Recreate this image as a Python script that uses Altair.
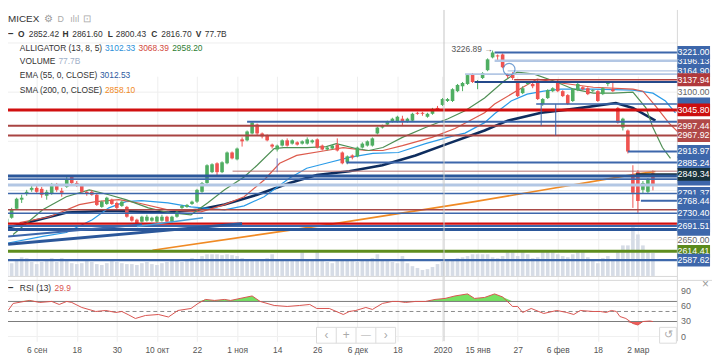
import altair as alt
import pandas as pd

FONT = "Liberation Sans"

# ---------------- data ----------------
opens = [2696, 2717, 2744, 2772, 2790, 2802, 2808, 2805, 2784, 2790,
         2814, 2799, 2811, 2841, 2823, 2817, 2796, 2796, 2787, 2750,
         2759, 2772, 2762, 2753, 2750, 2720, 2711, 2705, 2708, 2708,
         2705, 2708, 2720, 2705, 2720, 2747, 2750, 2759, 2766, 2796,
         2823, 2856, 2883, 2856, 2883, 2916, 2895, 2956, 2953, 2974,
         3001, 2974, 2968, 2940, 2925, 2937, 2953, 2943, 2947, 2943,
         2943, 2947, 2956, 2937, 2925, 2928, 2940, 2916, 2886, 2907,
         2904, 2931, 2937, 2937, 2974, 2992, 3001, 3010, 3010, 3019,
         3010, 3013, 3037, 3037, 3025, 3034, 3052, 3061, 3073, 3073,
         3103, 3118, 3125, 3155, 3128, 3143, 3167, 3206, 3212, 3215,
         3155, 3155, 3128, 3097, 3125, 3125, 3134, 3064, 3082, 3103,
         3134, 3103, 3091, 3073, 3106, 3115, 3112, 3103, 3103, 3094,
         3125, 3109, 3052, 2992, 2983, 2849, 2856, 2802, 2796, 2852.42]
highs = [2723, 2747, 2778, 2787, 2802, 2814, 2814, 2811, 2802, 2823,
         2823, 2808, 2841, 2847, 2829, 2820, 2799, 2802, 2790, 2769,
         2781, 2775, 2766, 2769, 2753, 2723, 2714, 2723, 2726, 2720,
         2723, 2726, 2723, 2723, 2738, 2756, 2759, 2769, 2805, 2826,
         2880, 2883, 2886, 2889, 2919, 2919, 2931, 2962, 2983, 3010,
         3004, 2977, 2971, 2943, 2940, 2956, 2959, 2956, 2950, 2953,
         2962, 2956, 2959, 2940, 2934, 2940, 2959, 2919, 2907, 2910,
         2934, 2947, 2953, 2962, 2995, 3001, 3013, 3022, 3028, 3028,
         3022, 3037, 3040, 3040, 3037, 3052, 3058, 3082, 3082, 3112,
         3125, 3131, 3155, 3158, 3137, 3161, 3203, 3226.89, 3215, 3218,
         3158, 3161, 3131, 3118, 3134, 3128, 3137, 3082, 3109, 3115,
         3137, 3106, 3094, 3112, 3128, 3118, 3115, 3109, 3106, 3115,
         3134, 3128, 3055, 3022, 2986, 2877, 2862, 2829, 2838, 2861.60]
lows = [2687, 2714, 2741, 2762, 2784, 2796, 2793, 2778, 2772, 2787,
        2796, 2781, 2808, 2817, 2811, 2793, 2784, 2784, 2753, 2747,
        2756, 2756, 2741, 2750, 2717, 2705, 2696, 2702, 2705, 2705,
        2702, 2705, 2702, 2702, 2717, 2744, 2747, 2756, 2762, 2793,
        2820, 2853, 2847, 2853, 2880, 2895, 2892, 2934, 2950, 2971,
        2968, 2959, 2950, 2928, 2919, 2934, 2934, 2940, 2937, 2940,
        2940, 2943, 2928, 2922, 2922, 2925, 2919, 2880, 2880, 2895,
        2901, 2928, 2934, 2934, 2971, 2989, 2998, 3007, 3007, 2998,
        3007, 3010, 3031, 3028, 3022, 3031, 3043, 3058, 3070, 3070,
        3100, 3103, 3122, 3128, 3109, 3140, 3164, 3203, 3194, 3173,
        3143, 3137, 3085, 3094, 3122, 3112, 3076, 3058, 3079, 3100,
        3100, 3085, 3061, 3070, 3103, 3106, 3091, 3100, 3070, 3091,
        3118, 3100, 3004, 2983, 2913, 2747, 2730, 2790, 2790, 2800.43]
closes = [2714, 2741, 2775, 2778, 2796, 2808, 2796, 2787, 2796, 2820,
          2802, 2793, 2835, 2823, 2817, 2796, 2790, 2787, 2756, 2766,
          2778, 2759, 2747, 2766, 2720, 2708, 2699, 2720, 2720, 2717,
          2720, 2720, 2705, 2720, 2735, 2753, 2756, 2766, 2802, 2823,
          2877, 2880, 2856, 2886, 2916, 2898, 2928, 2950, 2980, 3007,
          2974, 2965, 2953, 2934, 2937, 2953, 2937, 2953, 2940, 2950,
          2956, 2953, 2931, 2925, 2931, 2937, 2922, 2883, 2904, 2901,
          2931, 2943, 2950, 2959, 2992, 2998, 3010, 3019, 3025, 3010,
          3019, 3034, 3034, 3034, 3034, 3049, 3046, 3079, 3079, 3109,
          3122, 3128, 3152, 3131, 3134, 3158, 3200, 3221, 3209, 3176,
          3149, 3143, 3088, 3112, 3128, 3118, 3079, 3079, 3106, 3112,
          3103, 3088, 3064, 3109, 3125, 3109, 3094, 3106, 3073, 3112,
          3128, 3103, 3007, 3019, 2919, 2793, 2768, 2823, 2832, 2816.70]
volumes = [50, 43, 57, 63, 60, 47, 40, 47, 50, 60, 47, 60, 50, 43, 40,
           43, 50, 47, 40, 37, 43, 50, 47, 43, 40, 40, 37, 43, 47, 40, 37,
           43, 47, 50, 57, 47, 53, 60, 57, 67, 73,
           73, 73, 70, 73, 70, 67, 60,
           57, 53, 50, 53, 60, 73, 57, 53, 50, 50, 53, 80, 57, 53, 83,
           50, 47, 43, 50, 57, 53, 50, 47, 53, 57, 60, 73, 53, 50, 47, 43, 67,
           43, 33, 27, 20, 23, 30, 40,
           47, 50, 57, 60, 63, 67, 73, 73, 73, 73, 63, 60, 67,
           80, 80, 67, 83, 73, 60, 63, 83, 83, 80, 73, 67, 63, 73, 80, 80,
           63, 57, 43, 60, 67, 57,
           83, 103, 103, 173, 140, 103, 80, 77.7]

# indicator lines, read as (bar index, value) points
ema_x = [0.3, 12, 20.4, 32.3, 38.2, 43.5, 50, 56.5, 61.9, 68.4, 75, 81.6, 88.1,
         95.4, 100, 106.7, 113.2, 121.6, 125, 129.5]
ema_v = [2687, 2733, 2738, 2733, 2741, 2757, 2787, 2823, 2847, 2859, 2877, 2907,
         2943, 2983, 3013, 3037, 3049, 3067, 3052, 3013]
sma_x = [29.1, 64.2, 93.4, 125.6, 129.5]
sma_v = [2618, 2696, 2766, 2850, 2858]
lips_x = [1.3, 7.2, 11.9, 16.5, 20.4, 23.8, 28.3, 32.2, 36.8, 40.1, 43.5, 47.4, 50,
          53.4, 55.3, 59.9, 63.8, 65.8, 69.7, 72.3, 75.1, 79, 83.6, 88.1, 91.5,
          95.4, 99.3, 101.9, 105.3, 109.2, 113.2, 117.1, 121.1, 125, 127.6, 129,
          130.9, 132.5]
lips_v = [2666, 2741, 2781, 2802, 2787, 2772, 2747, 2733, 2726, 2762, 2802, 2841,
          2877, 2928, 2931, 2931, 2934, 2943, 2928, 2922, 2931, 2962, 2992, 3019,
          3043, 3082, 3134, 3161, 3155, 3134, 3109, 3097, 3097, 3100, 3052, 2992,
          2931, 2898]
teeth_x = [2.6, 8.6, 14.5, 17.8, 22.4, 26.3, 32.2, 38.8, 43.5, 47.4, 51.4, 54.5,
           57.9, 63.8, 67.2, 71.7, 75.1, 79, 84.9, 89.5, 95.4, 97.4, 102.7, 105.9,
           110.6, 117.1, 125, 127, 129.5, 132.3, 133.9]
teeth_v = [2702, 2720, 2757, 2766, 2772, 2762, 2741, 2735, 2757, 2781, 2832, 2883,
           2907, 2922, 2931, 2922, 2922, 2937, 2962, 2989, 3037, 3064, 3112, 3140,
           3128, 3115, 3109, 3103, 3058, 3004, 2980]
jaw_x = [0.3, 7.2, 11.9, 17.1, 20.4, 23.8, 26.9, 32.2, 36.8, 43.5, 47.4, 51.4, 56.5,
         59.9, 63.8, 68.4, 73.1, 78.2, 83.6, 89.5, 91.5, 95.4, 97.4, 100.7, 103.9,
         107.2, 110.6, 117.1, 125, 129, 131.5, 133.5]
jaw_v = [2640, 2660, 2672, 2711, 2747, 2766, 2769, 2762, 2750, 2741, 2753, 2781,
         2838, 2868, 2883, 2901, 2913, 2916, 2943, 2968, 2975, 3007, 3034, 3073,
         3094, 3103, 3109, 3109, 3106, 3097, 3073, 3037]

rsi_x = [0.3, 1.3, 4.6, 6.6, 9, 10.5, 12, 13, 15, 17.8, 19.8, 21.8, 23, 24.4, 25.7,
         27.7, 30.3, 32.3, 34.2, 36.8, 38.2, 39.7, 41.5, 43.5, 44.7, 46.6, 49, 50.6,
         53.4, 56, 58.5, 60.5, 61.9, 64.4, 67.2, 68.4, 69.7, 71.7, 73, 75, 77, 78.2,
         79.6, 81.6, 83.6, 85.5, 87.5, 89.5, 92, 93.4, 95.4, 97.4, 99, 101, 102, 103,
         104.7, 107.2, 109.8, 111.8, 113.2, 114.5, 117, 118.5, 119.7, 120.7, 121.7,
         122.4, 123.6, 125, 126, 127, 128.4, 129]
rsi_v = [52, 66, 72, 68, 70, 64, 70, 68, 58, 50, 52, 48, 50, 43, 36, 42, 44, 39, 52,
         56, 66, 74, 72, 74, 72, 76, 81, 70, 62, 60, 62, 64, 56, 56, 44, 50, 52, 58,
         54, 66, 70, 70, 68, 70, 70, 74, 76, 81, 85, 76, 78, 85, 79, 60, 60, 48, 56,
         46, 52, 48, 44, 52, 50, 50, 48, 52, 50, 40, 36, 26, 23, 30, 31, 29.9]

# horizontal drawing lines: price, start bar, colour, width
hl_price = [3221.00, 3196.13, 3164.90, 3155, 3137.94, 3131, 3064, 3045.80, 3010,
            2997.44, 2967.92, 2918.97, 2885.24, 2859, 2849.34, 2844, 2834.73, 2817,
            2791, 2768.44, 2741, 2730.40, 2699, 2691.51, 2681, 2614.41, 2587.62]
hl_start = [97.4, 97.4, 100, 91.5, 101.3, 93.4, 105.7, 0, 48,
            0, 0, 124, 67.8, 45.1, 125.6, 0, 0, 0,
            0, 126.6, 0, 0, 0, 0, 0, 0, 0]
BLUE, LIGHT, NAVY = "#3d67ab", "#b3c7e4", "#24498a"
hl_color = [BLUE, LIGHT, LIGHT, LIGHT, "#b5403c", NAVY, BLUE, "#d10f0f", BLUE,
            "#a94442", "#a94442", BLUE, BLUE, "#b87070", "#17313b", "#2b579a", BLUE, LIGHT,
            BLUE, BLUE, "#a94a48", BLUE, "#d10f0f", BLUE, "#2b579a", "#5e8d1e", BLUE]
hl_width = [2, 2.5, 1.5, 2, 1.5, 2, 1.5, 3, 2,
            2, 2, 2, 2, 1, 2, 3, 2, 3,
            1.5, 2, 1.5, 1.5, 2.5, 2, 3, 3, 2.5]

# trend lines (bar, price) -> (bar, price)
tl_x1 = [0.3, 0.3, 26]
tl_y1 = [2636, 2660, 2690]
tl_x2 = [47, 27, 39.2]
tl_y2 = [2699, 2696, 2717]
tl_color = ["#2b579a", "#3d67ab", "#4a9fd8"]
tl_width = [3, 2, 1.5]

vl_x = [106.7, 109.6, 54]
vl_y1 = [3067, 3064, 2898]
vl_y2 = [2998, 2968, 2856]
vl_color = [BLUE, BLUE, "#7a7ac0"]

# price tags on the right scale (first ones sit underneath the others)
hidden_tag_price = [3064.19, 2834.73, 2681.85]
tag_price = [3196.13, 2791.37,
             3221.00, 3164.90, 3137.94, 3045.80, 2997.44, 2967.92, 2918.97, 2885.24,
             2849.34, 2768.44, 2730.40, 2691.51, 2614.41, 2587.62]
tag_bg = [BLUE, BLUE,
          BLUE, BLUE, "#b0393b", "#cc0e0e", "#b04848", "#b04848", BLUE, BLUE,
          "#17323a", BLUE, BLUE, BLUE, "#5b8a1c", BLUE]
axis_price = [3100.00, 2650.00]
grid_price = [3250, 3100, 2950, 2800, 2650]
rsi_ticks = [90, 60, 30, 0]

tick_idx = [6, 14, 22, 30, 38, 46, 54, 62, 70, 78, 87, 94, 102, 110, 118, 126]
tick_lbl = ["6 сен", "18", "30", "10 окт", "22", "1 ноя", "14", "26", "6 дек", "18",
            "2020", "15 янв", "27", "6 фев", "18", "2 мар"]

# ---------------- scales ----------------
W, H = 712, 335
X0, X1 = 0.2763, 140.79
XEND = 133.9
xs = alt.Scale(domain=[X0, X1], range=[0, W], nice=False, zero=False)
ps = alt.Scale(domain=[2542.4, 3350.7], range=[268, 0], nice=False, zero=False)
vs = alt.Scale(domain=[0, 200], range=[269, 209], nice=False, zero=False)
rs = alt.Scale(domain=[-9.3, 113], range=[335, 273], nice=False, zero=False)

label_expr = ("[" + ",".join(f"'{t}'" for t in tick_lbl) + "][indexof(["
              + ",".join(str(v) for v in tick_idx) + "], datum.value)]")
xaxis = alt.Axis(values=tick_idx, labelExpr=label_expr, title=None, grid=True,
                 gridColor="#eeeeee", ticks=False, domain=False, labelColor="#555555",
                 labelFont=FONT, labelFontSize=8.5, labelPadding=4, labelOverlap=False,
                 labelFlush=False)


def X(f):
    return alt.X(f, type="quantitative", scale=xs, axis=xaxis)


def PY(f):
    return alt.Y(f, type="quantitative", scale=ps, axis=None)


def RY(f):
    return alt.Y(f, type="quantitative", scale=rs, axis=None)


layers = []

# grids
gp = pd.DataFrame({"p": grid_price, "s": X0, "e": XEND})
layers.append(alt.Chart(gp).mark_rule(color="#eeeeee", strokeWidth=1).encode(
    x=X("s"), x2="e", y=PY("p")))
gr = pd.DataFrame({"r": rsi_ticks, "s": X0, "e": XEND})
layers.append(alt.Chart(gr).mark_rule(color="#f0f0f0", strokeWidth=1).encode(
    x=X("s"), x2="e", y=RY("r")))

# volume
vd = pd.DataFrame({"i": range(len(volumes)), "v": volumes})
vd["a"] = vd["i"] - 0.36
vd["b"] = vd["i"] + 0.36
vd["z"] = 0
layers.append(alt.Chart(vd).mark_rect(color="#d6dce6").encode(
    x=X("a"), x2="b", y=alt.Y("v:Q", scale=vs, axis=None), y2="z"))


# moving averages
def ma_layer(xv, yv, color, width):
    d = pd.DataFrame({"x": xv, "y": yv})
    return alt.Chart(d).mark_line(color=color, strokeWidth=width).encode(
        x=X("x"), y=PY("y"))


layers.append(ma_layer(sma_x, sma_v, "#f08a24", 1.6))
layers.append(ma_layer(ema_x, ema_v, "#0e2d5e", 2.6))
layers.append(ma_layer(jaw_x, jaw_v, "#2a9be8", 1.2))
layers.append(ma_layer(teeth_x, teeth_v, "#dd5a4c", 1.2))
layers.append(ma_layer(lips_x, lips_v, "#4f8f55", 1.2))

# candles
cd = pd.DataFrame({"i": range(len(closes)), "o": opens, "h": highs, "l": lows, "c": closes})
cd["col"] = ["#4fae62" if c >= o else "#ef5350" for o, c in zip(cd["o"], cd["c"])]
cd["lo"] = cd[["o", "c"]].min(axis=1)
cd["hi"] = cd[["o", "c"]].max(axis=1)
cd["hi"] = pd.concat([cd["hi"], cd["lo"] + 3], axis=1).max(axis=1)
cd["a"] = cd["i"] - 0.36
cd["b"] = cd["i"] + 0.36
layers.append(alt.Chart(cd).mark_rule(strokeWidth=1).encode(
    x=X("i"), y=PY("l"), y2="h", color=alt.Color("col:N", scale=None)))
layers.append(alt.Chart(cd).mark_rect().encode(
    x=X("a"), x2="b", y=PY("lo"), y2="hi", color=alt.Color("col:N", scale=None)))

# drawings
hd = pd.DataFrame({"p": hl_price, "s": [max(s, X0) for s in hl_start],
                   "col": hl_color, "w": hl_width})
hd["e"] = XEND
layers.append(alt.Chart(hd).mark_rule().encode(
    x=X("s"), x2="e", y=PY("p"), color=alt.Color("col:N", scale=None),
    strokeWidth=alt.StrokeWidth("w:Q", scale=None)))
td = pd.DataFrame({"x1": tl_x1, "y1": tl_y1, "x2": tl_x2, "y2": tl_y2,
                   "col": tl_color, "w": tl_width})
layers.append(alt.Chart(td).mark_rule().encode(
    x=X("x1"), x2="x2", y=PY("y1"), y2="y2", color=alt.Color("col:N", scale=None),
    strokeWidth=alt.StrokeWidth("w:Q", scale=None)))
vdl = pd.DataFrame({"x": vl_x, "a": vl_y1, "b": vl_y2, "col": vl_color})
layers.append(alt.Chart(vdl).mark_rule(strokeWidth=1).encode(
    x=X("x"), y=PY("a"), y2="b", color=alt.Color("col:N", scale=None)))
layers.append(alt.Chart(pd.DataFrame({"x": [100.3], "y": [3170]})).mark_point(
    shape="circle", filled=False, color="#3c7bc4", size=140, strokeWidth=1.2).encode(
    x=X("x"), y=PY("y")))
layers.append(alt.Chart(pd.DataFrame({"x": [97.0], "y": [3231], "t": ["3226.89 →"]})).mark_text(
    align="right", baseline="middle", font=FONT, fontSize=8.5, color="#555555").encode(
    x=X("x"), y=PY("y"), text="t:N"))

# year separator
layers.append(alt.Chart(pd.DataFrame({"x": [87.3]})).mark_rule(color="#c4c4c4", strokeWidth=1).encode(
    x=X("x"), y=alt.value(0), y2=alt.value(H)))

# RSI pane
rd = pd.DataFrame({"x": rsi_x, "r": rsi_v})
rd["up"] = rd["r"].clip(lower=70)
rd["dn"] = rd["r"].clip(upper=30)
rd["b70"] = 70
rd["b30"] = 30
layers.append(alt.Chart(rd).mark_area(color="#6ee05a", opacity=0.95).encode(
    x=X("x"), y=RY("up"), y2="b70"))
layers.append(alt.Chart(rd).mark_area(color="#ef5350", opacity=0.95).encode(
    x=X("x"), y=RY("dn"), y2="b30"))
bands = pd.DataFrame({"r": [70, 30], "s": X0, "e": XEND})
layers.append(alt.Chart(bands).mark_rule(color="#7a7a7a", strokeWidth=1).encode(
    x=X("s"), x2="e", y=RY("r")))
mid = pd.DataFrame({"r": [50], "s": X0, "e": XEND})
layers.append(alt.Chart(mid).mark_rule(color="#8a8a8a", strokeWidth=1, strokeDash=[4, 3]).encode(
    x=X("s"), x2="e", y=RY("r")))
layers.append(alt.Chart(rd).mark_line(color="#d9534f", strokeWidth=1).encode(
    x=X("x"), y=RY("r")))

# pane frames
one = pd.DataFrame({"a": [0]})
layers.append(alt.Chart(one).mark_rule(color="#d8d8d8", strokeWidth=1).encode(
    x=alt.value(677), y=alt.value(0), y2=alt.value(H)))
layers.append(alt.Chart(one).mark_rule(color="#d8d8d8", strokeWidth=1).encode(
    x=alt.value(0), x2=alt.value(677), y=alt.value(269.5)))
layers.append(alt.Chart(one).mark_rule(color="#d8d8d8", strokeWidth=1).encode(
    x=alt.value(0), x2=alt.value(W), y=alt.value(273.5)))

# price scale labels and tags
ap = pd.DataFrame({"p": axis_price, "t": [f"{v:.2f}" for v in axis_price], "x": 137.1})
layers.append(alt.Chart(ap).mark_text(font=FONT, fontSize=9, color="#666666",
                                      baseline="middle", align="center").encode(
    x=X("x"), y=PY("p"), text="t:N"))

hid = pd.DataFrame({"p": hidden_tag_price})
hid["top"] = hid["p"] + 19.6
hid["bot"] = hid["p"] - 19.6
hid["a"] = XEND
hid["b"] = 140.4
layers.append(alt.Chart(hid).mark_rect(color=BLUE).encode(
    x=X("a"), x2="b", y=PY("top"), y2="bot"))

tg = pd.DataFrame({"p": tag_price, "bg": tag_bg})
tg["t"] = [f"{v:.2f}" for v in tag_price]
tg["top"] = tg["p"] + 19.6
tg["bot"] = tg["p"] - 19.6
tg["a"] = XEND
tg["b"] = 140.4
tg["x"] = 137.1
for k in range(len(tg)):
    row = tg.iloc[[k]]
    layers.append(alt.Chart(row).mark_rect().encode(
        x=X("a"), x2="b", y=PY("top"), y2="bot", color=alt.Color("bg:N", scale=None)))
    layers.append(alt.Chart(row).mark_text(font=FONT, fontSize=9, color="white",
                                           baseline="middle", align="center").encode(
        x=X("x"), y=PY("p"), text="t:N"))

rl = pd.DataFrame({"r": rsi_ticks, "t": [str(v) for v in rsi_ticks], "x": 134.6})
layers.append(alt.Chart(rl).mark_text(font=FONT, fontSize=9, color="#666666",
                                      baseline="middle", align="left").encode(
    x=X("x"), y=RY("r"), text="t:N"))


# chrome texts (legend / buttons)
def ctext(t, x, y, color="#333333", size=8.5, weight="normal", align="left"):
    return alt.Chart(pd.DataFrame({"t": [t]})).mark_text(
        align=align, baseline="middle", font=FONT, fontSize=size, fontWeight=weight,
        color=color).encode(x=alt.value(x), y=alt.value(y), text="t:N")


layers += [
    ctext("MICEX", 0, 9, size=10),
    ctext("⚙", 36, 9, color="#999999", size=10),
    ctext("D", 50, 9, color="#aaaaaa", size=9),
    ctext("ılıl", 63, 9, color="#aaaaaa", size=9),
    ctext("⊡", 76, 9, color="#aaaaaa", size=10),
    ctext("−", 0, 24, weight="bold", size=10),
    ctext("O", 10, 24, weight="bold"), ctext("2852.42", 21, 24),
    ctext("H", 55, 24, weight="bold"), ctext("2861.60", 65, 24),
    ctext("L", 101, 24, weight="bold"), ctext("2800.43", 109, 24),
    ctext("C", 145, 24, weight="bold"), ctext("2816.70", 155, 24),
    ctext("V", 190, 24, weight="bold"), ctext("77.7B", 199, 24),
    ctext("ALLIGATOR (13, 8, 5)", 12, 38),
    ctext("3102.33", 98, 38, color="#2a8fd8"),
    ctext("3068.39", 132, 38, color="#d2493b"),
    ctext("2958.20", 166, 38, color="#2e7d32"),
    ctext("VOLUME", 12, 52), ctext("77.7B", 51, 52, color="#9fb0c8"),
    ctext("EMA (55, 0, CLOSE)", 12, 66), ctext("3012.53", 93, 66, color="#2d5a9e"),
    ctext("SMA (200, 0, CLOSE)", 12, 81), ctext("2858.10", 98, 81, color="#f08a24"),
    ctext("−", 0, 281, weight="bold", size=10),
    ctext("RSI (13)", 12, 281), ctext("29.9", 47, 281, color="#d9534f"),
    ctext("×", 702, 277, color="#999999", size=12),
]

# navigation buttons
layers.append(alt.Chart(one).mark_rect(fill="white", stroke="#dcdcdc", strokeWidth=1).encode(
    x=alt.value(312), x2=alt.value(392), y=alt.value(321), y2=alt.value(337)))
for xd in (332, 352, 372):
    layers.append(alt.Chart(one).mark_rule(color="#dcdcdc").encode(
        x=alt.value(xd), y=alt.value(321), y2=alt.value(337)))
layers += [ctext("‹", 322, 329, color="#aaaaaa", size=12, align="center"),
           ctext("+", 342, 329, color="#aaaaaa", size=12, align="center"),
           ctext("—", 362, 329, color="#aaaaaa", size=10, align="center"),
           ctext("›", 382, 329, color="#aaaaaa", size=12, align="center")]
layers.append(alt.Chart(one).mark_rect(fill="white", stroke="#dcdcdc", strokeWidth=1).encode(
    x=alt.value(659), x2=alt.value(676), y=alt.value(321), y2=alt.value(337)))
layers.append(ctext("↺", 667.5, 329, color="#aaaaaa", size=11, align="center"))

chart = alt.layer(*layers).resolve_scale(y="independent").properties(
    width=W, height=H,
    autosize=alt.AutoSizeParams(type="none"),
    padding={"left": 0, "top": 0, "right": 0, "bottom": 15},
    background="white",
).configure_view(stroke=None)

chart.save("out.html", embed_options={"renderer": "svg", "actions": False})
